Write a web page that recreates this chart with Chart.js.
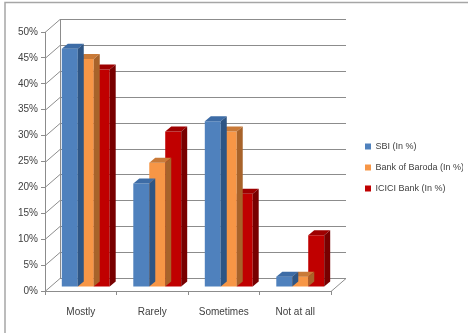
<!DOCTYPE html>
<html>
<head>
<meta charset="utf-8">
<script src="https://cdn.jsdelivr.net/npm/chart.js@4.4.0/dist/chart.umd.min.js"></script>
<style>
html,body{margin:0;padding:0;background:#fff;}
#wrap{position:relative;width:468px;height:333px;}
</style>
</head>
<body>
<div id="wrap"><canvas id="c" width="468" height="333"></canvas></div>
<script>
// ---- data ----
const categories = ['Mostly', 'Rarely', 'Sometimes', 'Not at all'];
const seriesNames = ['SBI (In %)', 'Bank of Baroda (In %)', 'ICICI Bank (In %)'];
const sbiValues = [46, 20, 32, 2];
const bobValues = [44, 24, 30, 2];
const iciciValues = [42, 30, 18, 10];
const yTickMin = 0, yTickMax = 50, yTickStep = 5;

// ---- styles ----
const FONT = "'Liberation Sans Narrow','Liberation Sans',Arial,sans-serif";
const TEXT = '#404040';
const LINE = '#8c8c8c';
const WALL_DX = 15, WALL_DY = 13;     // depth of the walls
const SHIFT_X = 5, SHIFT_Y = -4;      // bars sit mid-depth
const BAR_DX = 6, BAR_DY = 5;         // bar depth
const LEGEND_W = 110;
const faceColors = [
  {front: '#4F81BD', top: '#3D6CA6', side: '#2E5584'},
  {front: '#F79646', top: '#C97A38', side: '#A8632A'},
  {front: '#C00000', top: '#9E0000', side: '#780000'}
];

function poly(ctx, pts, color) {
  ctx.beginPath();
  ctx.moveTo(pts[0][0], pts[0][1]);
  for (let i = 1; i < pts.length; i++) ctx.lineTo(pts[i][0], pts[i][1]);
  ctx.closePath();
  ctx.fillStyle = color;
  ctx.fill();
}

const threeD = {
  id: 'threeD',
  afterLayout(chart) {
    const lg = chart.legend;
    if (!lg) return;
    const w = lg.width, h = lg.height;
    lg.left = 353; lg.right = 353 + w;
    lg.top = 130; lg.bottom = 130 + h;
  },
  beforeDraw(chart) {
    const ctx = chart.ctx;
    ctx.save();
    ctx.strokeStyle = '#a6a6a6';
    ctx.lineWidth = 1.5;
    ctx.beginPath();
    ctx.moveTo(5, 333); ctx.lineTo(5, 2.5); ctx.lineTo(468, 2.5);
    ctx.stroke();
    ctx.restore();
  },
  beforeDatasetsDraw(chart) {
    const ctx = chart.ctx, a = chart.chartArea, ys = chart.scales.y;
    ctx.save();
    ctx.strokeStyle = LINE;
    ctx.lineWidth = 1;
    ctx.beginPath();
    for (let v = yTickMin; v <= yTickMax; v += yTickStep) {
      const py = Math.round(ys.getPixelForValue(v)) + 0.5;
      ctx.moveTo(a.left, py);
      ctx.lineTo(a.left + WALL_DX, py - WALL_DY);
      ctx.lineTo(a.right + WALL_DX, py - WALL_DY);
    }
    const bx = Math.round(a.left + WALL_DX) + 0.5;
    ctx.moveTo(bx, Math.round(ys.getPixelForValue(yTickMax)) + 0.5 - WALL_DY);
    ctx.lineTo(bx, Math.round(ys.getPixelForValue(yTickMin)) + 0.5 - WALL_DY);
    const by = Math.round(ys.getPixelForValue(yTickMin)) + 0.5;
    ctx.moveTo(a.right, by);
    ctx.lineTo(a.right + WALL_DX, by - WALL_DY);
    ctx.stroke();
    ctx.restore();
  },
  beforeDatasetDraw(chart) {
    chart.ctx.save();
    chart.ctx.translate(SHIFT_X, SHIFT_Y);
  },
  afterDatasetDraw(chart, args) {
    const ctx = chart.ctx;
    const c = faceColors[args.index];
    args.meta.data.forEach(bar => {
      const p = bar.getProps(['x', 'y', 'base', 'width'], true);
      const x0 = p.x - p.width / 2, x1 = p.x + p.width / 2;
      const top = Math.min(p.y, p.base), bot = Math.max(p.y, p.base);
      poly(ctx, [[x0, top], [x1, top], [x1 + BAR_DX, top - BAR_DY], [x0 + BAR_DX, top - BAR_DY]], c.top);
      poly(ctx, [[x1, top], [x1 + BAR_DX, top - BAR_DY], [x1 + BAR_DX, bot - BAR_DY], [x1, bot]], c.side);
    });
    ctx.restore();
  }
};

const values = [sbiValues, bobValues, iciciValues];
new Chart(document.getElementById('c'), {
  type: 'bar',
  data: {
    labels: categories,
    datasets: values.map((vals, i) => ({
      label: seriesNames[i],
      data: vals,
      backgroundColor: faceColors[i].front,
      borderWidth: 0,
      clip: false,
      categoryPercentage: 0.67,
      barPercentage: 1.0
    }))
  },
  options: {
    responsive: false,
    animation: false,
    events: [],
    layout: {padding: {top: 32, left: 0, right: 468 - 331 - LEGEND_W, bottom: 0}},
    plugins: {
      tooltip: {enabled: false},
      legend: {
        position: 'right',
        align: 'start',
        maxWidth: LEGEND_W,
        labels: {
          boxWidth: 6, boxHeight: 6, padding: 12,
          color: TEXT,
          font: {family: FONT, size: 9}
        }
      }
    },
    scales: {
      x: {
        afterFit(s) { s.height = 42; },
        grid: {display: true, drawOnChartArea: false, drawTicks: true, tickLength: 4, color: LINE, offset: true},
        border: {display: true, color: LINE},
        ticks: {color: TEXT, font: {family: FONT, size: 10}, padding: 11, maxRotation: 0}
      },
      y: {
        min: yTickMin, max: yTickMax,
        afterFit(s) { s.width = 45; },
        grid: {display: true, drawOnChartArea: false, drawTicks: true, tickLength: 4, color: LINE},
        border: {display: true, color: LINE},
        ticks: {stepSize: yTickStep, color: TEXT, font: {family: FONT, size: 10}, padding: 3,
                callback: v => v + '%'}
      }
    }
  },
  plugins: [threeD]
});
</script>
</body>
</html>
